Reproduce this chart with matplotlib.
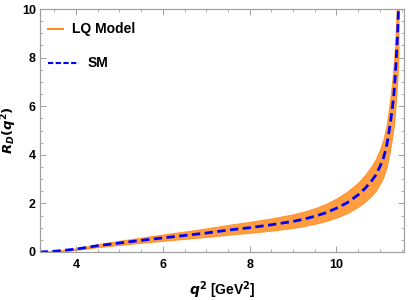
import numpy as np
import matplotlib; matplotlib.use("Agg")
import matplotlib.pyplot as plt
from matplotlib.ticker import MultipleLocator

# data
q2 = [3.16, 3.5, 4.0, 4.5, 5.0, 5.5, 6.0, 6.5, 7.0, 7.5, 8.0, 8.5, 9.0, 9.25, 9.5, 9.75,
      10.0, 10.25, 10.5, 10.65, 10.8, 10.9, 11.0, 11.08, 11.15, 11.2, 11.25, 11.29,
      11.32, 11.35, 11.38, 11.41, 11.43]
r_sm = [0, 0.03, 0.12, 0.26, 0.37, 0.48, 0.58, 0.68, 0.78, 0.9, 1.0, 1.12, 1.26, 1.35,
        1.47, 1.61, 1.8, 2.03, 2.35, 2.6, 2.9, 3.15, 3.5, 3.85, 4.3, 4.8, 5.4, 5.95,
        6.4, 7.1, 8.0, 9.0, 10.0]
r_lq_hi = [0, 0.04, 0.15, 0.32, 0.46, 0.59, 0.72, 0.84, 0.97, 1.11, 1.24, 1.38, 1.55,
           1.66, 1.8, 1.97, 2.2, 2.48, 2.85, 3.15, 3.5, 3.8, 4.2, 4.62, 5.15, 5.75,
           6.45, 7.1, 7.65, 8.5, 9.55, 10.75, 11.9]
r_lq_lo = [0, 0.02, 0.09, 0.2, 0.29, 0.38, 0.46, 0.54, 0.62, 0.71, 0.79, 0.88, 0.99,
           1.07, 1.16, 1.27, 1.42, 1.6, 1.86, 2.06, 2.3, 2.5, 2.8, 3.08, 3.45, 3.85,
           4.35, 4.8, 5.15, 5.7, 6.45, 7.25, 8.1]

ORANGE = "#ff8c1e"
BLUE = "#0000ff"
FRAME = "#a0a0a0"

plt.rcParams["font.family"] = ["Liberation Sans", "DejaVu Sans"]
plt.rcParams["font.weight"] = "bold"

fig = plt.figure(figsize=(4.09, 3.0), dpi=100)
ax = fig.add_axes([0.098, 0.16, 0.889, 0.81])

ax.fill_between(q2, r_lq_lo, r_lq_hi, color=ORANGE, alpha=0.85, linewidth=0.8,
                edgecolor=ORANGE)
ax.plot(q2, r_sm, color=BLUE, linewidth=2.0, dashes=(3.0, 1.6))

ax.set_xlim(3.17, 11.55)
ax.set_ylim(0, 10)
ax.xaxis.set_major_locator(MultipleLocator(2))
ax.xaxis.set_minor_locator(MultipleLocator(0.5))
ax.yaxis.set_major_locator(MultipleLocator(2))
ax.yaxis.set_minor_locator(MultipleLocator(0.5))
ax.tick_params(which="both", direction="in", top=True, right=True, color=FRAME,
               labelsize=9)
ax.tick_params(axis="x", pad=5)
ax.tick_params(axis="y", pad=3)
ax.tick_params(which="major", length=4, width=0.7)
ax.tick_params(which="minor", length=2, width=0.6)
for lab in ax.get_xticklabels() + ax.get_yticklabels():
    lab.set_fontweight("bold")
for s in ax.spines.values():
    s.set_color(FRAME); s.set_linewidth(0.9)

ax.set_xlabel(r"$\boldsymbol{q}^{\mathbf{2}}$ [GeV$^{\mathbf{2}}$]", fontsize=10,
              fontweight="bold", labelpad=6)
ax.set_ylabel(r"$\boldsymbol{R}_{\boldsymbol{D}}\mathbf{(}\boldsymbol{q}^{\mathbf{2}}\mathbf{)}$",
              fontsize=9.5)
ax.yaxis.set_label_coords(-0.058, 0.5)

# legend drawn by hand to mimic the layout
ax.plot([0.022, 0.062], [0.919, 0.919], transform=ax.transAxes, color=ORANGE, linewidth=1.5)
ax.text(0.088, 0.919, "LQ Model", transform=ax.transAxes, fontsize=10,
        fontweight="bold", va="center")
ax.plot([0.022, 0.108], [0.776, 0.776], transform=ax.transAxes, color=BLUE,
        linewidth=1.5, dashes=(2.5, 1.2))
ax.text(0.132, 0.776, "SM", transform=ax.transAxes, fontsize=10,
        fontweight="bold", va="center")

plt.savefig("out.png", dpi=100, facecolor="white")
plt.close(fig)
